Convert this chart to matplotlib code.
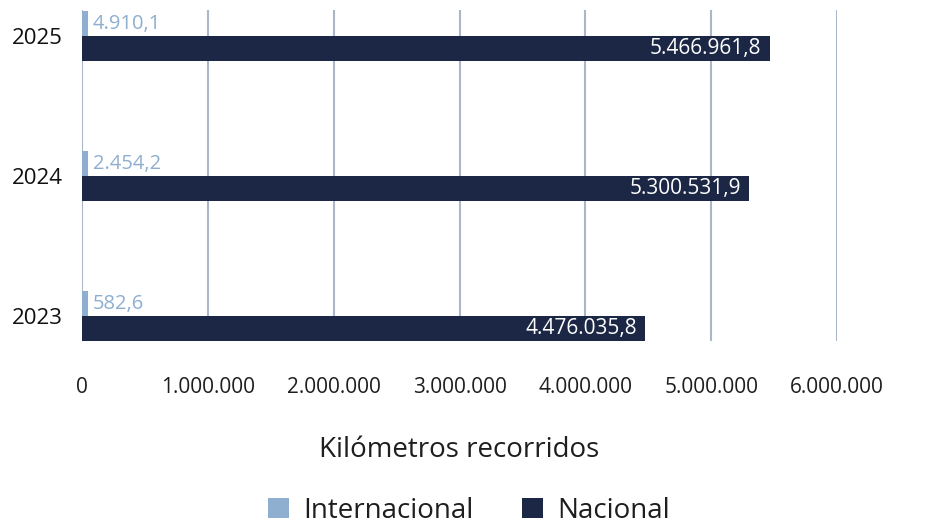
import matplotlib
matplotlib.use("Agg")
import matplotlib.pyplot as plt
import numpy as np

years = ["2023", "2024", "2025"]
internacional = [582.6, 2454.2, 4910.1]
nacional = [4476035.8, 5300531.9, 5466961.8]
xticks = [0, 1000000, 2000000, 3000000, 4000000, 5000000, 6000000]
xtick_labels = ["0", "1.000.000", "2.000.000", "3.000.000", "4.000.000", "5.000.000", "6.000.000"]
int_labels = ["582,6", "2.454,2", "4.910,1"]
nac_labels = ["4.476.035,8", "5.300.531,9", "5.466.961,8"]

plt.rcParams['font.family'] = ['Open Sans', 'DejaVu Sans']

C_INT = "#8EAFD0"
C_NAC = "#1B2745"
C_GRID = "#A9B7C9"
C_TXT = "#1E1E1E"

fig = plt.figure(figsize=(9.38, 5.26), dpi=100)
W, H = 938, 526
ax_w_px = 837 - 82
ax = fig.add_axes([82 / W, (H - 341) / H, ax_w_px / W, (341 - 10) / H])

XMAX = 6000000
ax.set_xlim(0, XMAX)

y = np.arange(len(years))
h = 0.178
# minimum visible bar length (display rule, like the source chart tool)
min_len = 6 / ax_w_px * XMAX
int_drawn = [max(v, min_len) for v in internacional]
ax.barh(y + h / 2, int_drawn, height=h, color=C_INT, label="Internacional", zorder=3)
ax.barh(y - h / 2, nacional, height=h, color=C_NAC, label="Nacional", zorder=3)

for yi, v, t in zip(y, int_drawn, int_labels):
    ax.annotate(t, (v, yi + h / 2), xytext=(3.5, 0), textcoords="offset points",
                va="center", ha="left", color=C_INT, fontsize=14.5)
for yi, v, t in zip(y, nacional, nac_labels):
    ax.annotate(t, (v, yi - h / 2), xytext=(-6, 0), textcoords="offset points",
                va="center", ha="right", color="white", fontsize=15)

ax.set_ylim(-h, 2 + 0.186)
ax.set_xticks(xticks)
ax.set_xticklabels(xtick_labels, fontsize=15, color=C_TXT)
ax.set_yticks(y)
ax.set_yticklabels(years, fontsize=16, color="#111111")
ax.tick_params(axis="x", length=0, pad=26)
ax.tick_params(axis="y", length=0, pad=14)
ax.grid(axis="x", color=C_GRID, linewidth=1.5, zorder=0)
for s in ax.spines.values():
    s.set_visible(False)

ax.set_xlabel("Kilómetros recorridos", fontsize=20, color=C_TXT, labelpad=27)

fig.legend(loc="lower center", bbox_to_anchor=(0.5, -0.024), ncol=2, frameon=False,
           fontsize=20, handlelength=0.75, handleheight=0.75, columnspacing=1.75,
           handletextpad=0.5, labelcolor=C_TXT, borderpad=0.0)

fig.savefig("out.png", dpi=100)
